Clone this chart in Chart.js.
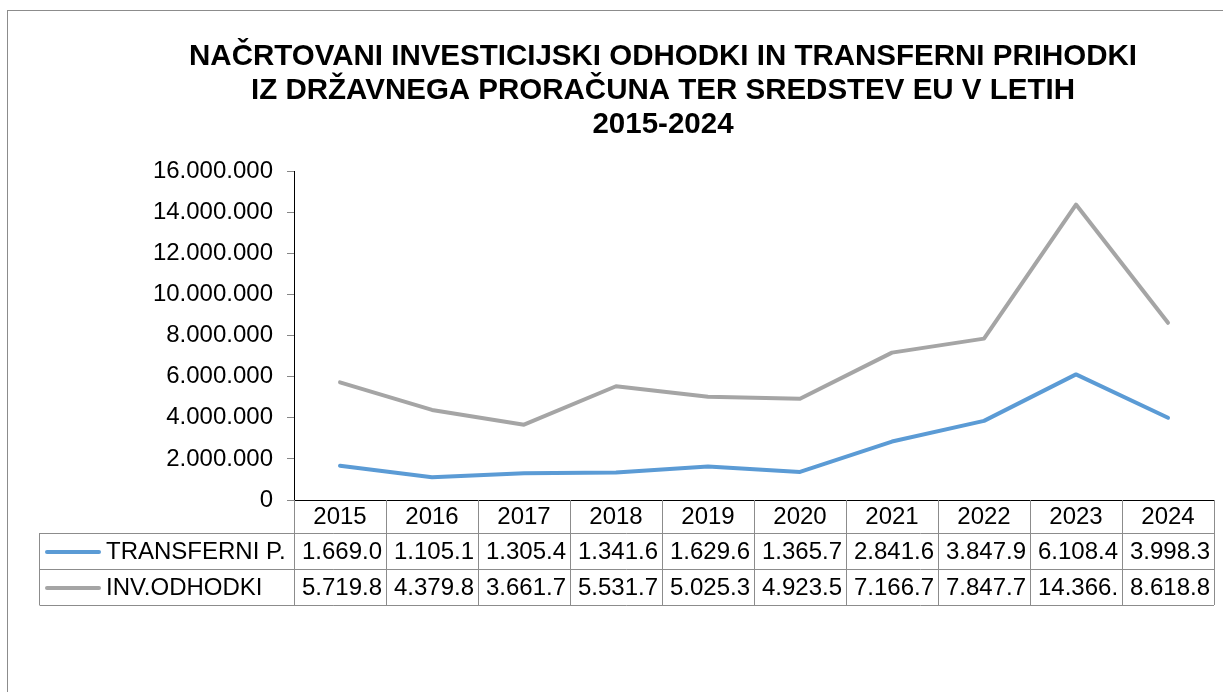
<!DOCTYPE html>
<html>
<head>
<meta charset="utf-8">
<script src="https://cdn.jsdelivr.net/npm/chart.js@4.4.1/dist/chart.umd.min.js"></script>
<style>
  html, body { margin: 0; padding: 0; background: #fff; }
  canvas { display: block; }
</style>
</head>
<body>
<canvas id="lineChart" width="1223" height="692"></canvas>
<script>
const years = ["2015", "2016", "2017", "2018", "2019", "2020", "2021", "2022", "2023", "2024"];
const transferni = [1669000, 1105100, 1305400, 1341600, 1629600, 1365700, 2841600, 3847900, 6108400, 3998300];
const invOdhodki = [5719800, 4379800, 3661700, 5531700, 5025300, 4923500, 7166700, 7847700, 14366000, 8618800];
const titleLines = [
    "NAČRTOVANI INVESTICIJSKI ODHODKI IN TRANSFERNI PRIHODKI",
    "IZ DRŽAVNEGA PRORAČUNA TER SREDSTEV EU V LETIH",
    "2015-2024"
];

const FONT = "'Liberation Sans', Arial, sans-serif";

function fmt(v) {
    return String(Math.round(v)).replace(/\B(?=(\d{3})+(?!\d))/g, ".");
}

// outer frame of the chart object
const framePlugin = {
    id: "frame",
    beforeDraw(chart) {
        const ctx = chart.ctx;
        ctx.save();
        ctx.fillStyle = "#fff";
        ctx.fillRect(0, 0, chart.width, chart.height);
        ctx.strokeStyle = "#8c8c8c";
        ctx.lineWidth = 1;
        ctx.strokeRect(7.5, 10.5, chart.width + 20, chart.height + 20);
        ctx.restore();
    }
};

// data table under the x axis (Excel style)
const tablePlugin = {
    id: "dataTable",
    afterDraw(chart) {
        const ctx = chart.ctx;
        const x = chart.scales.x;
        const area = chart.chartArea;
        const colW = (area.right - area.left) / years.length;
        const top = area.bottom;
        const rows = [top + 33, top + 69, top + 105];
        const legendLeft = 39.5;

        ctx.save();
        ctx.strokeStyle = "#8c8c8c";
        ctx.lineWidth = 1;
        ctx.beginPath();
        for (let i = 0; i <= years.length; i++) {
            const px = Math.round(x.getPixelForValue(i) - colW / 2) + 0.5;
            ctx.moveTo(px, top);
            ctx.lineTo(px, rows[2]);
        }
        rows.forEach(r => {
            ctx.moveTo(legendLeft, Math.round(r) + 0.5);
            ctx.lineTo(area.right, Math.round(r) + 0.5);
        });
        ctx.moveTo(legendLeft, rows[0]);
        ctx.lineTo(legendLeft, rows[2]);
        ctx.stroke();

        ctx.font = "24px " + FONT;
        ctx.fillStyle = "#000";
        ctx.textBaseline = "middle";
        ctx.textAlign = "left";

        chart.data.datasets.forEach((ds, d) => {
            const cy = (rows[d] + rows[d + 1]) / 2 + 1;
            ctx.strokeStyle = ds.borderColor;
            ctx.lineWidth = 4;
            ctx.lineCap = "round";
            ctx.beginPath();
            ctx.moveTo(47, cy);
            ctx.lineTo(99, cy);
            ctx.stroke();
            ctx.fillText(ds.label, 106, cy);

            ds.data.forEach((v, i) => {
                const cellLeft = x.getPixelForValue(i) - colW / 2;
                const maxW = colW - 11;
                let s = fmt(v);
                while (s.length > 0 && ctx.measureText(s).width > maxW) {
                    s = s.slice(0, -1);
                }
                ctx.fillText(s, cellLeft + 8, cy);
            });
        });
        ctx.restore();
    }
};

const ctx = document.getElementById("lineChart").getContext("2d");
const lineChart = new Chart(ctx, {
    type: "line",
    data: {
        labels: years,
        datasets: [
            {
                label: "TRANSFERNI P.",
                data: transferni,
                borderColor: "#5b9bd5",
                backgroundColor: "#5b9bd5",
                borderWidth: 4,
                pointRadius: 0,
                tension: 0,
                borderJoinStyle: "round",
                borderCapStyle: "round",
                fill: false
            },
            {
                label: "INV.ODHODKI",
                data: invOdhodki,
                borderColor: "#a5a5a5",
                backgroundColor: "#a5a5a5",
                borderWidth: 4,
                pointRadius: 0,
                tension: 0,
                borderJoinStyle: "round",
                borderCapStyle: "round",
                fill: false
            }
        ]
    },
    options: {
        responsive: false,
        animation: false,
        layout: {
            padding: { left: 112, right: 9, top: 0, bottom: 0 }
        },
        plugins: {
            legend: { display: false },
            tooltip: { enabled: false },
            title: {
                display: true,
                text: titleLines,
                color: "#000",
                font: { family: FONT, size: 29.5, weight: "bold", lineHeight: 34 / 29.5 },
                padding: { top: 40, bottom: 29 }
            }
        },
        scales: {
            x: {
                type: "category",
                offset: true,
                grid: { display: false, drawTicks: false },
                border: { display: true, color: "#000", width: 1 },
                ticks: {
                    color: "#000",
                    font: { family: FONT, size: 24 },
                    padding: 3,
                    maxRotation: 0,
                    autoSkip: false
                },
                afterFit(scale) {
                    scale.height = 192;
                }
            },
            y: {
                min: 0,
                max: 16000000,
                grid: {
                    drawOnChartArea: false,
                    tickLength: 7,
                    color: "#868686"
                },
                border: { display: true, color: "#000", width: 1 },
                ticks: {
                    stepSize: 2000000,
                    color: "#000",
                    padding: 14,
                    font: { family: FONT, size: 24 },
                    callback: (v) => fmt(v)
                },
                afterFit(scale) {
                    scale.width = 182;
                }
            }
        }
    },
    plugins: [framePlugin, tablePlugin]
});
</script>
</body>
</html>
